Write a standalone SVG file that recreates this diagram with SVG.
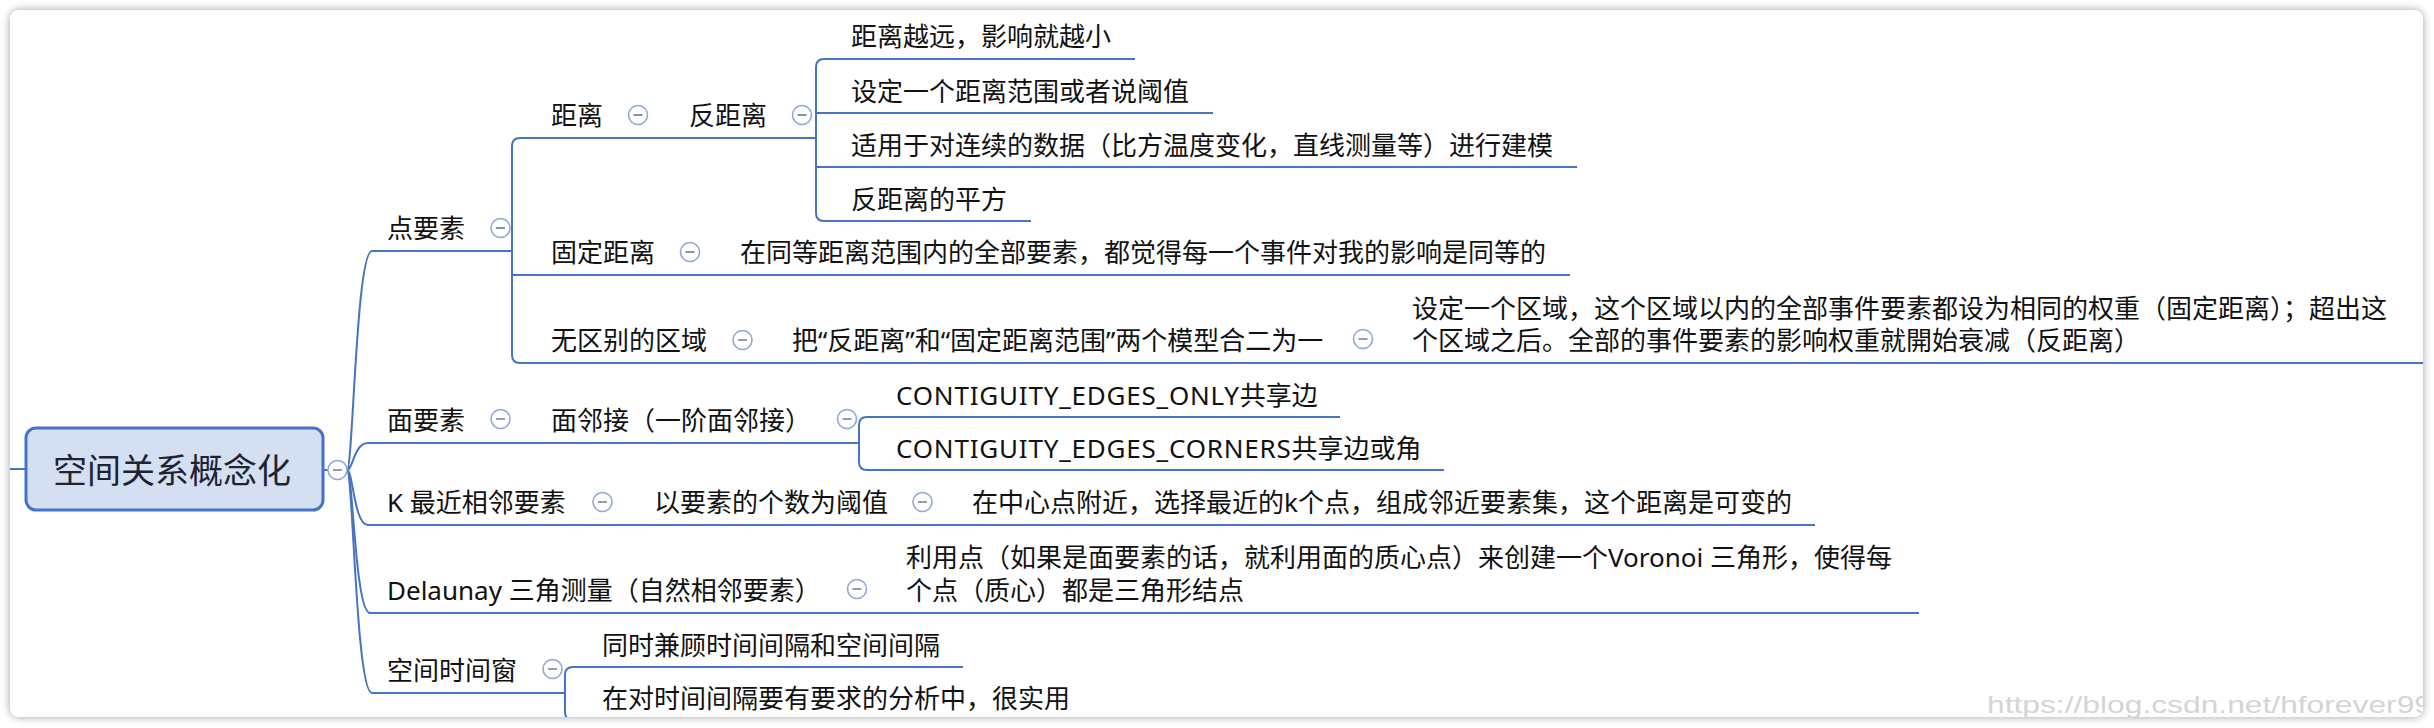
<svg xmlns="http://www.w3.org/2000/svg" xmlns:xlink="http://www.w3.org/1999/xlink" width="2434" height="728" viewBox="0 0 2434 728">
<defs>
<style>
.t{font-family:"Noto Sans","Noto Sans CJK SC",sans-serif;font-size:26px;fill:#111}
.root{font-family:"Noto Sans","Noto Sans CJK SC",sans-serif;font-size:34px;fill:#1c2433}
.ln{fill:none;stroke:#4673c4;stroke-width:2}
.wm{font-family:"Liberation Sans",Arial,sans-serif;font-size:24px;fill:#d4d4d4}
.ls{letter-spacing:0.8px}
</style>
<filter id="sh" x="-5%" y="-5%" width="110%" height="110%">
<feDropShadow dx="0" dy="0" stdDeviation="4" flood-color="#000" flood-opacity="0.38"/>
</filter>
<clipPath id="clip"><rect x="10" y="10" width="2413" height="707" rx="9"/></clipPath>
<g id="tog">
<circle cx="0" cy="0" r="9.5" fill="#fff" stroke="#8ea8d8" stroke-width="1.6"/>
<line x1="-4.5" y1="0" x2="4.5" y2="0" stroke="#8a93a6" stroke-width="1.8"/>
</g>
</defs>
<rect x="0" y="0" width="2434" height="728" fill="#fff"/>
<rect x="10" y="10" width="2413" height="707" rx="9" fill="#fff" filter="url(#sh)"/>
<g clip-path="url(#clip)">
<g id="connectors">
<path class="ln" d="M10 469 L26 469"/>
<path class="ln" d="M323 470 L328 470"/>
<path class="ln" d="M347 470 C353 470 356 251 372 251 L512 251"/>
<path class="ln" d="M347 470 C353 470 354 443 368 443 L859 443"/>
<path class="ln" d="M347 470 C353 470 354 525 368 525 L1815 525"/>
<path class="ln" d="M347 470 C353 470 355 613 370 613 L1919 613"/>
<path class="ln" d="M347 470 C353 470 356 693 372 693 L565 693"/>
<path class="ln" d="M520 138 Q512 138 512 146 L512 355 Q512 363 520 363"/>
<path class="ln" d="M520 138 L816 138"/>
<path class="ln" d="M512 275 L1570 275"/>
<path class="ln" d="M520 363 L2440 363"/>
<path class="ln" d="M824 59 Q816 59 816 67 L816 213 Q816 221 824 221"/>
<path class="ln" d="M824 59 L1135 59"/>
<path class="ln" d="M816 113 L1213 113"/>
<path class="ln" d="M816 167 L1577 167"/>
<path class="ln" d="M824 221 L1031 221"/>
<path class="ln" d="M867 417 Q859 417 859 425 L859 462 Q859 470 867 470"/>
<path class="ln" d="M867 417 L1340 417"/>
<path class="ln" d="M867 470 L1444 470"/>
<path class="ln" d="M573 667 Q565 667 565 675 L565 712 Q565 720 573 720 L1070 720"/>
<path class="ln" d="M573 667 L963 667"/>
</g>
<g id="n-root">
<rect x="26" y="428" width="297" height="82" rx="10" fill="#d4dff1" stroke="#4472c4" stroke-width="3"/>
<text class="root" x="172" y="483" text-anchor="middle">空间关系概念化</text>
<use xlink:href="#tog" x="337.5" y="470"/>
</g>
<g id="n-point">
<text class="t" x="387" y="238">点要素</text>
<use xlink:href="#tog" x="500.5" y="228"/>
</g>
<g id="n-dist">
<text class="t" x="551" y="125">距离</text>
<use xlink:href="#tog" x="638" y="115"/>
</g>
<g id="n-invdist">
<text class="t" x="689" y="125">反距离</text>
<use xlink:href="#tog" x="802" y="115"/>
</g>
<g id="n-inv1"><text class="t" x="851" y="46">距离越远，影响就越小</text></g>
<g id="n-inv2"><text class="t" x="851" y="101">设定一个距离范围或者说阈值</text></g>
<g id="n-inv3"><text class="t" x="851" y="155">适用于对连续的数据（比方温度变化，直线测量等）进行建模</text></g>
<g id="n-inv4"><text class="t" x="851" y="209">反距离的平方</text></g>
<g id="n-fixed">
<text class="t" x="551" y="262">固定距离</text>
<use xlink:href="#tog" x="690" y="252"/>
</g>
<g id="n-fixed1"><text class="t" x="740" y="262">在同等距离范围内的全部要素，都觉得每一个事件对我的影响是同等的</text></g>
<g id="n-zone">
<text class="t" x="551" y="350">无区别的区域</text>
<use xlink:href="#tog" x="742.5" y="340"/>
</g>
<g id="n-zone1">
<text class="t" x="792" y="350">把“反距离”和“固定距离范围”两个模型合二为一</text>
<use xlink:href="#tog" x="1363" y="339"/>
</g>
<g id="n-zone2">
<text class="t" x="1412" y="318">设定一个区域，这个区域以内的全部事件要素都设为相同的权重（固定距离）；超出这</text>
<text class="t" x="1412" y="350">个区域之后。全部的事件要素的影响权重就開始衰减（反距离）</text>
</g>
<g id="n-poly">
<text class="t" x="387" y="430">面要素</text>
<use xlink:href="#tog" x="500.5" y="419"/>
</g>
<g id="n-contig">
<text class="t" x="551" y="430">面邻接（一阶面邻接）</text>
<use xlink:href="#tog" x="847" y="419"/>
</g>
<g id="n-contig1"><text class="t" x="896" y="405"><tspan class="ls">CONTIGUITY_EDGES_ONLY</tspan>共享边</text></g>
<g id="n-contig2"><text class="t" x="896" y="458"><tspan class="ls">CONTIGUITY_EDGES_CORNERS</tspan>共享边或角</text></g>
<g id="n-knn">
<text class="t" x="387" y="512">K 最近相邻要素</text>
<use xlink:href="#tog" x="602.5" y="502"/>
</g>
<g id="n-knn1">
<text class="t" x="654" y="512">以要素的个数为阈值</text>
<use xlink:href="#tog" x="922.5" y="502"/>
</g>
<g id="n-knn2"><text class="t" x="972" y="512">在中心点附近，选择最近的k个点，组成邻近要素集，这个距离是可变的</text></g>
<g id="n-delaunay">
<text class="t" x="387" y="600">Delaunay 三角测量（自然相邻要素）</text>
<use xlink:href="#tog" x="857" y="589"/>
</g>
<g id="n-delaunay1">
<text class="t" x="906" y="567">利用点（如果是面要素的话，就利用面的质心点）来创建一个Voronoi 三角形，使得每</text>
<text class="t" x="906" y="600">个点（质心）都是三角形结点</text>
</g>
<g id="n-stw">
<text class="t" x="387" y="680">空间时间窗</text>
<use xlink:href="#tog" x="552.5" y="669"/>
</g>
<g id="n-stw1"><text class="t" x="602" y="655">同时兼顾时间间隔和空间间隔</text></g>
<g id="n-stw2"><text class="t" x="602" y="708">在对时间间隔要有要求的分析中，很实用</text></g>
<text class="wm" x="1987" y="713" textLength="445" lengthAdjust="spacingAndGlyphs">https://blog.csdn.net/hforever99</text>
</g>
</svg>
